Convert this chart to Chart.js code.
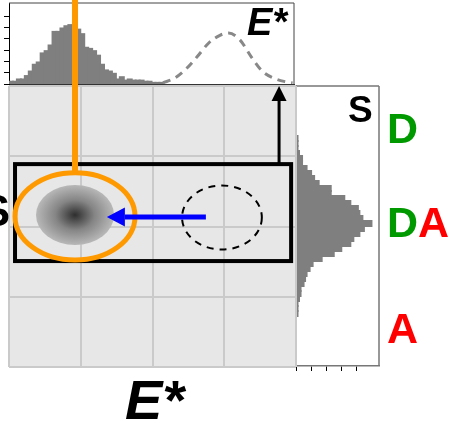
<!DOCTYPE html>
<html>
<head>
<meta charset="utf-8">
<script src="https://cdn.jsdelivr.net/npm/chart.js@4.4.0/dist/chart.umd.min.js"></script>
<style>
  html, body { margin: 0; padding: 0; background: #fff; }
  #wrap { position: relative; width: 454px; height: 424px; overflow: hidden; }
  #wrap canvas { position: absolute; }
  #top  { left: 0; top: 0; z-index: 1; }
  #side { left: 290px; top: 80px; z-index: 1; }
  #main { left: 0; top: 0; z-index: 2; }
</style>
</head>
<body>
<div id="wrap">
  <canvas id="top" width="300" height="90"></canvas>
  <canvas id="side" width="164" height="300"></canvas>
  <canvas id="main" width="454" height="424"></canvas>
</div>
<script>
// ---- E* histogram (top panel): 72 equal bins over E* = 0..1, counts from the first bin on
const eBinCount = 72;
const eHistCounts = [2, 2, 4, 4, 7, 11, 17, 19, 27, 29, 34, 46, 46, 49, 51, 52, 47, 48, 44, 32,
                     31, 29, 25, 17, 12, 11, 9, 4, 6, 3, 4, 3, 3, 3, 2, 2, 1, 1, 1];

// ---- expected E* distribution (dashed curve)
const eExpectedE      = [0.54, 0.58, 0.62, 0.66, 0.70, 0.74, 0.77, 0.81, 0.85, 0.89, 0.93, 0.97, 0.995];
const eExpectedCounts = [1, 5, 13, 24, 36, 43, 45, 39, 24, 11, 5, 2, 1];
const eTopTicks = [0.14, 0.32, 0.5, 0.68, 0.86];

// ---- S histogram (right panel): 56 equal bins over S = 0..1, listed from high S downwards
const sBinCount = 56;
const sFirstBin = 10;   // index (from the top) of the first listed bin
const sHistCounts = [1, 1, 1, 2, 4, 4, 7, 10, 12, 15, 23, 23, 32, 36, 41, 42, 44, 50, 45, 42,
                     38, 36, 30, 25, 17, 11, 9, 7, 6, 5, 3, 3, 2, 1, 1, 1];

// ---- E*-S map annotations (data units)
const measuredPop = { e: 0.230, s: 0.541, re: 0.136, rs: 0.107 };
const selectGate  = { e: 0.230, s: 0.536, re: 0.209, rs: 0.155 };
const expectedPop = { e: 0.742, s: 0.532, re: 0.139, rs: 0.114 };
const shiftArrow  = { eFrom: 0.686, eTo: 0.341, s: 0.534 };
const sWindow     = { e0: 0.021, e1: 0.983, s0: 0.377, s1: 0.722 };
const projArrow   = { e: 0.941, s0: 0.722, s1: 1.0 };

const HIST_GREY = '#7f7f7f';
const ORANGE = '#ff9900';
const FONT = '"Liberation Sans", Arial, sans-serif';

// frame edges not covered by the axis borders
function edgePlugin(color, width, sides) {
  return {
    id: 'edges',
    afterDraw(chart) {
      const a = chart.chartArea, c = chart.ctx;
      c.save();
      c.strokeStyle = color; c.lineWidth = width;
      c.beginPath();
      if (sides.includes('t')) { c.moveTo(a.left, a.top); c.lineTo(a.right, a.top); }
      if (sides.includes('r')) { c.moveTo(a.right, a.top); c.lineTo(a.right, a.bottom); }
      if (sides.includes('b')) { c.moveTo(a.left, a.bottom); c.lineTo(a.right, a.bottom); }
      if (sides.includes('l')) { c.moveTo(a.left, a.top); c.lineTo(a.left, a.bottom); }
      c.stroke();
      c.restore();
    }
  };
}

const tensOnly = s => { s.ticks = s.ticks.filter(t => Math.abs(t.value % 10) < 1e-9); };

// ---------- top panel: E* projection
new Chart(document.getElementById('top'), {
  type: 'bar',
  data: {
    datasets: [
      {
        type: 'line',
        data: eExpectedE.map((e, i) => ({ x: e, y: eExpectedCounts[i] })),
        borderColor: '#888888',
        borderWidth: 3,
        borderDash: [8, 6],
        pointRadius: 0,
        cubicInterpolationMode: 'monotone',
        fill: false,
        order: 1
      },
      {
        type: 'bar',
        data: eHistCounts.map((c, i) => ({ x: (i + 0.5) / eBinCount, y: c })),
        backgroundColor: HIST_GREY,
        borderWidth: 0,
        inflateAmount: 1,
        barPercentage: 1,
        categoryPercentage: 1,
        order: 2
      }
    ]
  },
  options: {
    responsive: false,
    animation: false,
    events: [],
    layout: { padding: { left: 4, right: 6, top: 3, bottom: 3 } },
    plugins: { legend: { display: false }, tooltip: { enabled: false } },
    scales: {
      x: {
        type: 'linear', min: 0, max: 1, offset: false,
        afterBuildTicks: s => { s.ticks = eTopTicks.map(v => ({ value: v })); },
        ticks: { display: false },
        grid: { drawOnChartArea: false, drawTicks: true, tickLength: 3, color: '#000' },
        border: { display: true, color: '#333', width: 1 }
      },
      y: {
        type: 'linear', min: 0, max: 71.5,
        ticks: { display: false, stepSize: 10 },
        afterBuildTicks: tensOnly,
        grid: { drawOnChartArea: false, drawTicks: true, tickLength: 5, color: '#000' },
        border: { display: true, color: '#000', width: 1 }
      }
    }
  },
  plugins: [edgePlugin('#444', 1, 'tr')]
});

// ---------- right panel: S projection
new Chart(document.getElementById('side'), {
  type: 'bar',
  data: {
    datasets: [{
      data: sHistCounts.map((c, i) => ({ x: c, y: 1 - (sFirstBin + i + 0.5) / sBinCount })),
      backgroundColor: HIST_GREY,
      borderWidth: 0,
      inflateAmount: 1,
      barPercentage: 1,
      categoryPercentage: 1
    }]
  },
  options: {
    indexAxis: 'y',
    responsive: false,
    animation: false,
    events: [],
    layout: { padding: { left: 6, right: 75, top: 6, bottom: 9 } },
    plugins: { legend: { display: false }, tooltip: { enabled: false } },
    scales: {
      x: {
        type: 'linear', min: 0, max: 55,
        ticks: { display: false, stepSize: 10 },
        afterBuildTicks: tensOnly,
        grid: { drawOnChartArea: false, drawTicks: true, tickLength: 5, color: '#000' },
        border: { display: true, color: '#777', width: 1.5 }
      },
      y: {
        type: 'linear', min: 0, max: 1, offset: false,
        ticks: { display: false },
        grid: { display: false, drawTicks: false },
        border: { display: true, color: '#777', width: 1.5 }
      }
    }
  },
  plugins: [edgePlugin('#777', 1.5, 'tr')]
});

// ---------- main E*-S map
function arrow(ctx, x0, y0, x1, y1, width, headLen, headW, color) {
  const ang = Math.atan2(y1 - y0, x1 - x0);
  const bx = x1 - headLen * Math.cos(ang), by = y1 - headLen * Math.sin(ang);
  ctx.save();
  ctx.strokeStyle = color; ctx.fillStyle = color; ctx.lineWidth = width;
  ctx.beginPath(); ctx.moveTo(x0, y0); ctx.lineTo(bx, by); ctx.stroke();
  ctx.beginPath();
  ctx.moveTo(x1, y1);
  ctx.lineTo(bx + headW / 2 * Math.sin(ang), by - headW / 2 * Math.cos(ang));
  ctx.lineTo(bx - headW / 2 * Math.sin(ang), by + headW / 2 * Math.cos(ang));
  ctx.closePath(); ctx.fill();
  ctx.restore();
}

const mapBackground = {
  id: 'mapBackground',
  beforeDraw(chart) {
    const a = chart.chartArea, c = chart.ctx;
    c.save();
    c.fillStyle = '#e7e7e7';
    c.fillRect(a.left, a.top, a.right - a.left, a.bottom - a.top);
    c.restore();
  }
};

const mapOverlay = {
  id: 'mapOverlay',
  afterDraw(chart) {
    const { ctx, scales: { x, y } } = chart;
    const px = v => x.getPixelForValue(v);
    const py = v => y.getPixelForValue(v);
    const rx = p => px(p.e + p.re) - px(p.e);
    const ry = p => py(p.s) - py(p.s + p.rs);
    ctx.save();

    // stoichiometry window
    ctx.strokeStyle = '#000'; ctx.lineWidth = 4;
    ctx.strokeRect(px(sWindow.e0), py(sWindow.s1),
                   px(sWindow.e1) - px(sWindow.e0), py(sWindow.s0) - py(sWindow.s1));

    // measured population (shaded blob)
    {
      const cx = px(measuredPop.e), cy = py(measuredPop.s), a = rx(measuredPop), b = ry(measuredPop);
      ctx.save();
      ctx.translate(cx, cy); ctx.scale(1, b / a);
      const g = ctx.createRadialGradient(0, 0, 0, 0, 0, a);
      g.addColorStop(0, '#2e2e2e');
      g.addColorStop(0.5, '#858585');
      g.addColorStop(1, '#b8b8b8');
      ctx.fillStyle = g;
      ctx.beginPath(); ctx.arc(0, 0, a, 0, Math.PI * 2); ctx.fill();
      ctx.restore();
    }

    // expected population (dashed outline)
    ctx.save();
    ctx.strokeStyle = '#000'; ctx.lineWidth = 2; ctx.setLineDash([7, 6]);
    ctx.beginPath();
    ctx.ellipse(px(expectedPop.e), py(expectedPop.s), rx(expectedPop), ry(expectedPop), 0, 0, Math.PI * 2);
    ctx.stroke();
    ctx.restore();

    // selection gate and its projection line
    ctx.strokeStyle = ORANGE; ctx.lineWidth = 5;
    ctx.beginPath();
    ctx.ellipse(px(selectGate.e), py(selectGate.s), rx(selectGate), ry(selectGate), 0, 0, Math.PI * 2);
    ctx.stroke();
    ctx.lineWidth = 6;
    ctx.beginPath();
    ctx.moveTo(px(selectGate.e), 0);
    ctx.lineTo(px(selectGate.e), py(selectGate.s + selectGate.rs));
    ctx.stroke();

    // shift arrow
    arrow(ctx, px(shiftArrow.eFrom), py(shiftArrow.s), px(shiftArrow.eTo), py(shiftArrow.s), 5, 18, 19, '#0000ff');
    // projection arrow up to E* panel
    arrow(ctx, px(projArrow.e), py(projArrow.s0), px(projArrow.e), py(projArrow.s1), 3, 15, 15, '#000');

    // labels
    ctx.textBaseline = 'alphabetic';
    ctx.fillStyle = '#000';
    ctx.textAlign = 'left';
    ctx.font = 'italic bold 56px ' + FONT;
    ctx.fillText('E*', 125, 419);
    ctx.font = 'italic bold 38px ' + FONT;
    ctx.fillText('E*', 247, 35);
    ctx.font = 'bold 37px ' + FONT;
    ctx.fillText('S', 348, 122);
    ctx.textAlign = 'right';
    ctx.font = 'bold 44px ' + FONT;
    ctx.fillText('S', 10, 226);

    ctx.textAlign = 'left';
    ctx.font = 'bold 43px ' + FONT;
    const green = '#009a00', red = '#ff0000';
    ctx.fillStyle = green; ctx.fillText('D', 387, 143);
    ctx.fillStyle = green; ctx.fillText('D', 387, 237);
    const dw = ctx.measureText('D').width;
    ctx.fillStyle = red; ctx.fillText('A', 387 + dw, 237);
    ctx.fillStyle = red; ctx.fillText('A', 387, 343);

    ctx.restore();
  }
};

new Chart(document.getElementById('main'), {
  type: 'scatter',
  data: { datasets: [{ data: [], pointRadius: 0 }] },
  options: {
    responsive: false,
    animation: false,
    events: [],
    layout: { padding: { left: 9, right: 158, top: 86, bottom: 57 } },
    plugins: { legend: { display: false }, tooltip: { enabled: false } },
    scales: {
      x: {
        type: 'linear', min: 0, max: 1,
        ticks: { display: false, stepSize: 0.25 },
        grid: { drawTicks: false, color: '#cacaca', lineWidth: 2 },
        border: { display: false }
      },
      y: {
        type: 'linear', min: 0, max: 1,
        ticks: { display: false, stepSize: 0.25 },
        grid: { drawTicks: false, color: '#cacaca', lineWidth: 2 },
        border: { display: false }
      }
    }
  },
  plugins: [mapBackground, mapOverlay]
});
</script>
</body>
</html>
